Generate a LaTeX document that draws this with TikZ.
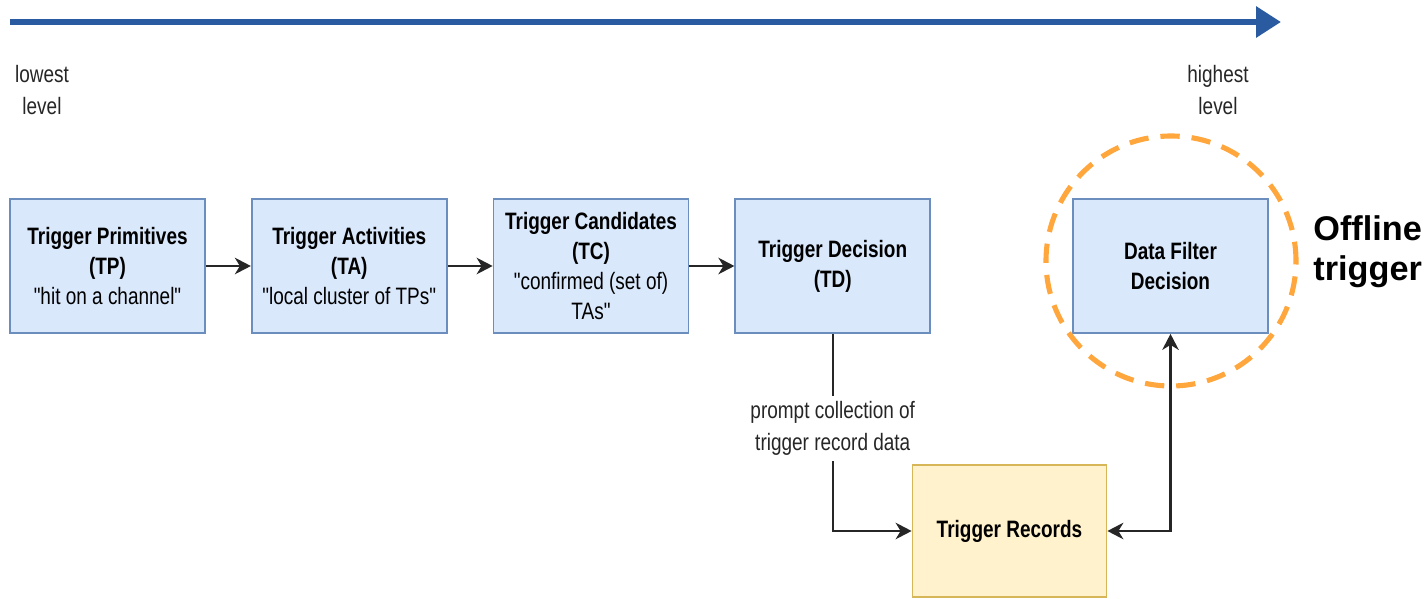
\documentclass[tikz,border=0pt]{standalone}
\usepackage{fontspec}
\setmainfont{Liberation Sans}
\newfontfamily\nfont{Liberation Sans}[FakeStretch=0.8]
\usepackage{tikz}
\usetikzlibrary{arrows.meta,positioning}
\definecolor{levelblue}{HTML}{2A5AA0}
\definecolor{boxblue}{HTML}{DAE8FC}
\definecolor{lineblue}{HTML}{6C8EBF}
\definecolor{boxyellow}{HTML}{FFF2CC}
\definecolor{lineyellow}{HTML}{D6B656}
\definecolor{ringorange}{HTML}{FFA63D}
\definecolor{linegray}{HTML}{262626}
\tikzset{
  hd/.tip={Stealth[length=3.2mm, width=3.3mm, inset=1mm]},
  blk/.style={draw, line width=1pt, align=center, minimum width=3.9cm, minimum height=2.68cm, inner sep=2pt, font=\nfont\fontsize{13.5}{17}\selectfont},
  blkb/.style={blk, fill=boxblue, draw=lineblue},
  blky/.style={blk, fill=boxyellow, draw=lineyellow},
  ar/.style={-hd, line width=1.4pt, draw=linegray},
  lbl/.style={font=\nfont\fontsize{13.5}{18}\selectfont, align=center, text=black!85},
  ring/.style={circle, draw=ringorange, line width=2.9pt, dash pattern=on 11pt off 6.8pt},
}

\begin{document}
\begin{tikzpicture}
  \useasboundingbox (0,0) rectangle (28.54,-11.98);

  % level axis
  \coordinate (lo) at (0.2,-0.44);
  \coordinate (hi) at (25.62,-0.44);
  \draw[line width=3.6pt, draw=levelblue, -{Triangle[length=5mm, width=6mm]}] (lo) -- (hi);
  \node[lbl] (lowest) at (0.84,-1.8) {lowest\\level};
  \node[lbl] (highest) at (24.36,-1.8) {highest\\level};

  % online chain
  \node[blkb] (tp) at (2.15,-5.32) {\textbf{Trigger Primitives}\\\textbf{(TP)}\\"hit on a channel"};
  \node[blkb, right=0.9cm of tp] (ta) {\textbf{Trigger Activities}\\\textbf{(TA)}\\"local cluster of TPs"};
  \node[blkb, right=0.9cm of ta] (tc) {\textbf{Trigger Candidates}\\\textbf{(TC)}\\"confirmed (set of)\\TAs"};
  \node[blkb, right=0.9cm of tc] (td) {\textbf{Trigger Decision}\\\textbf{(TD)}};

  % offline part
  \node[blkb] (dfd) at (23.41,-5.32) {\textbf{Data Filter}\\\textbf{Decision}};
  \node[blky, minimum width=3.88cm, minimum height=2.64cm] (tr) at (20.19,-10.62) {\textbf{Trigger Records}};
  \node[ring, minimum size=5cm] (offring) at (23.42,-5.22) {};
  \node[anchor=west, align=left, inner sep=0pt, font=\bfseries\fontsize{19.5}{23}\selectfont] (offline) at (26.26,-5.04) {Offline\\trigger};

  \draw[ar] (tp) -- (ta);
  \draw[ar] (ta) -- (tc);
  \draw[ar] (tc) -- (td);
  \draw[ar] (td.south) |- node[lbl, fill=white, pos=0.24, inner sep=3pt] (prompt) {prompt collection of\\trigger record data} (tr.west);
  \draw[ar, hd-hd] (tr.east) -| (dfd.south);
\end{tikzpicture}
\end{document}
